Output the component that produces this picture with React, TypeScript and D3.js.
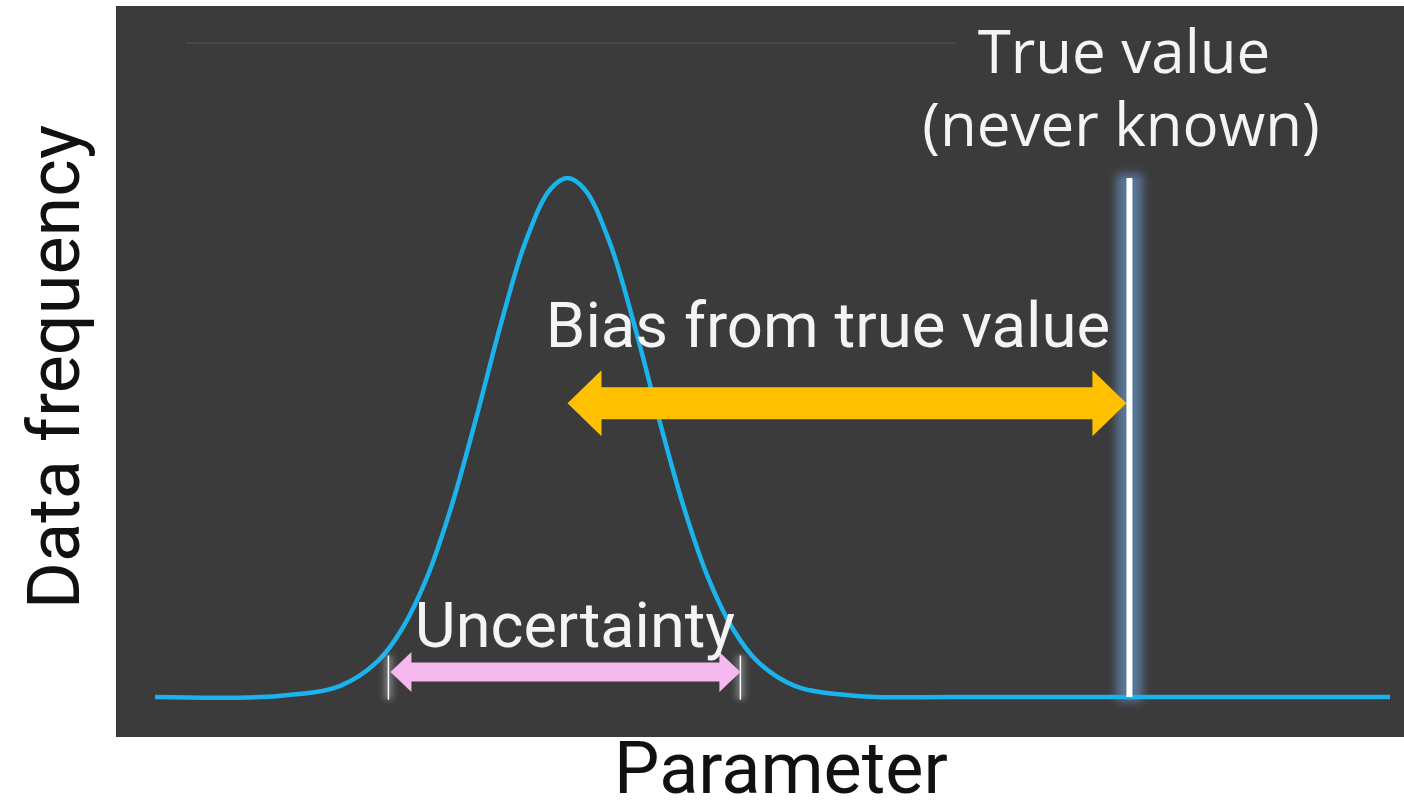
import React from "react";
import * as d3 from "d3";

// ---- data ----
const paramValues = [0, 10, 15, 18, 20, 22, 24, 26, 28, 30, 32, 33.4, 34.8, 36.8, 38.8, 40.8, 42.8, 44.8, 46.8, 48.8, 51.8, 56.8, 65, 80, 100];
const frequencyValues = [0, 0.002, 0.0215, 0.068, 0.131, 0.229, 0.367, 0.537, 0.718, 0.877, 0.978, 1, 0.978, 0.877, 0.718, 0.537, 0.367, 0.229, 0.131, 0.068, 0.0215, 0.002, 0, 0, 0];
const trueValue = 78.9;
const estimateValue = 33.4;
const uncertaintyRange = [18.9, 47.4];
const uncertaintyLevel = 0.048;
const biasLevel = 0.566;
const labels = {
  x: "Parameter",
  y: "Data frequency",
  trueValue: ["True value", "(never known)"],
  bias: "Bias from true value",
  uncertainty: "Uncertainty",
};

const W = 1404;
const H = 803;

function arrowPath(x1: number, x2: number, y: number, shaftHalf: number, headHalf: number, headLen: number) {
  const p = d3.path();
  p.moveTo(x1, y);
  p.lineTo(x1 + headLen, y - headHalf);
  p.lineTo(x1 + headLen, y - shaftHalf);
  p.lineTo(x2 - headLen, y - shaftHalf);
  p.lineTo(x2 - headLen, y - headHalf);
  p.lineTo(x2, y);
  p.lineTo(x2 - headLen, y + headHalf);
  p.lineTo(x2 - headLen, y + shaftHalf);
  p.lineTo(x1 + headLen, y + shaftHalf);
  p.lineTo(x1 + headLen, y + headHalf);
  p.closePath();
  return p.toString();
}

export default function App() {
  const x = d3.scaleLinear().domain([0, 100]).range([155, 1390]);
  const y = d3.scaleLinear().domain([0, 1]).range([697, 178]);
  const pts = paramValues.map((p, i) => [p, frequencyValues[i]] as [number, number]);
  const line = d3
    .line<[number, number]>()
    .x((d) => x(d[0]))
    .y((d) => y(d[1]))
    .curve(d3.curveCatmullRom.alpha(0.5));

  const font = "Roboto, 'Noto Sans', sans-serif";
  const biasY = y(biasLevel);
  const uncY = y(uncertaintyLevel);
  const tx = x(trueValue);

  return (
    <svg
      width={W}
      height={H}
      style={{ position: "fixed", left: 0, top: 0, background: "#ffffff" }}
    >
      <defs>
        <filter id="glow" filterUnits="userSpaceOnUse" x={0} y={0} width={W} height={H}>
          <feGaussianBlur stdDeviation="5" />
        </filter>
        <filter id="glow2" filterUnits="userSpaceOnUse" x={0} y={0} width={W} height={H}>
          <feGaussianBlur stdDeviation="3" />
        </filter>
      </defs>
      {/* dark panel */}
      <rect x={116} y={6} width={W - 116} height={731} fill="#3b3b3b" />
      <line x1={186} x2={955} y1={43} y2={43} stroke="#474747" strokeWidth={2} />

      {/* true value glow */}
      <rect
        x={tx - 13}
        width={26}
        y={y(1) - 4}
        height={y(0) - y(1) + 8}
        fill="#6f9fd8"
        opacity={0.6}
        filter="url(#glow)"
      />

      {/* distribution curve */}
      <path d={line(pts) || ""} fill="none" stroke="#1cb2ec" strokeWidth={4.5} />

      {/* true value line */}
      <line x1={tx} x2={tx} y1={y(1)} y2={y(0)} stroke="#ffffff" strokeWidth={6} />

      {/* uncertainty ticks */}
      {uncertaintyRange.map((v, i) => (
        <g key={i}>
          <rect x={x(v) - 4} width={8} y={y(0.08)} height={y(-0.005) - y(0.08)} fill="#c8d0d8" opacity={0.45} filter="url(#glow2)" />
          <line x1={x(v)} x2={x(v)} y1={y(0.08)} y2={y(-0.005)} stroke="#ffffff" strokeWidth={1.5} />
        </g>
      ))}

      {/* bias arrow */}
      <path d={arrowPath(x(estimateValue), tx - 3, biasY, 16, 33, 34)} fill="#ffc000" />

      {/* uncertainty arrow */}
      <path d={arrowPath(x(uncertaintyRange[0]) + 2, x(uncertaintyRange[1]), uncY, 9.5, 20, 21)} fill="#f5b9f0" />

      {/* annotation texts */}
      <text x={1124} y={73} textAnchor="middle" fill="#f4f4f4" fontFamily="'Open Sans', sans-serif" fontSize={60}>
        {labels.trueValue[0]}
      </text>
      <text x={1121} y={146} textAnchor="middle" fill="#f4f4f4" fontFamily="'Open Sans', sans-serif" fontSize={60}>
        {labels.trueValue[1]}
      </text>
      <text x={828} y={347} textAnchor="middle" fill="#f4f4f4" fontFamily={font} fontSize={63.5}>
        {labels.bias}
      </text>
      <text x={575} y={647} textAnchor="middle" fill="#f4f4f4" fontFamily={font} fontSize={63}>
        {labels.uncertainty}
      </text>

      {/* axis titles */}
      <text x={781} y={793} textAnchor="middle" fill="#111111" fontFamily={font} fontSize={72}>
        {labels.x}
      </text>
      <text
        transform={`translate(79, ${367}) rotate(-90)`}
        textAnchor="middle"
        fill="#111111"
        fontFamily={font}
        fontSize={72}
      >
        {labels.y}
      </text>
    </svg>
  );
}
